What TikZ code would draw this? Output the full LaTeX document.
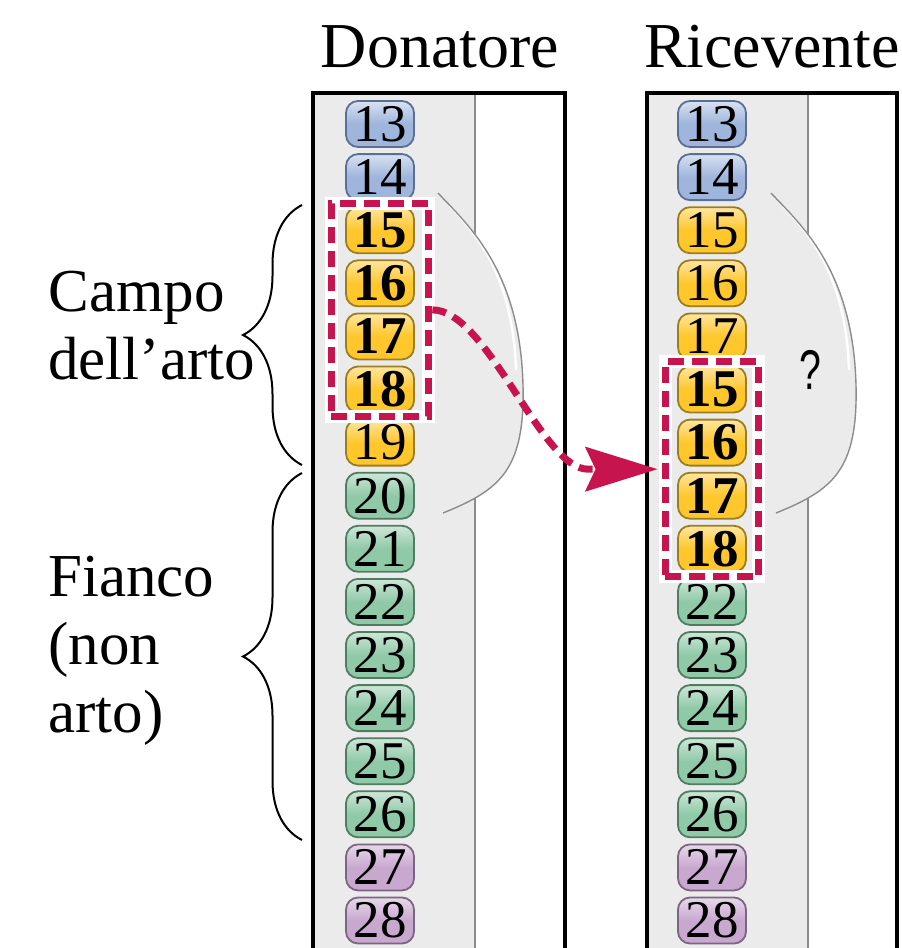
\documentclass[tikz,border=0pt]{standalone}
\usepackage{fontspec}
\usepackage{graphicx}
\setmainfont{Liberation Serif}
\setsansfont{Liberation Sans}
\usetikzlibrary{arrows.meta,decorations.pathreplacing,fit,calc}

% colori dei segmenti
\definecolor{cblu}{HTML}{9FB5DC}
\definecolor{cbluD}{HTML}{5B6F96}
\definecolor{cgia}{HTML}{FFC72C}
\definecolor{cgiaD}{HTML}{9C7E22}
\definecolor{cver}{HTML}{90C9A8}
\definecolor{cverD}{HTML}{4E7D62}
\definecolor{cvio}{HTML}{C9A8D0}
\definecolor{cvioD}{HTML}{7C6483}
\definecolor{cremisi}{HTML}{C8144E}
\definecolor{striscia}{HTML}{EBEBEB}

\tikzset{
	chip/.style={rounded corners=6pt,minimum width=34pt,minimum height=23pt,
		inner sep=0pt,line width=0.9pt,font=\fontsize{26.5}{26}\selectfont},
	blu/.style={chip,draw=cbluD,top color=cblu!40!white,bottom color=cblu,middle color=cblu},
	gia/.style={chip,draw=cgiaD,top color=cgia!45!white,bottom color=cgia,middle color=cgia},
	giab/.style={gia,font=\fontsize{26.5}{26}\selectfont\bfseries},
	ver/.style={chip,draw=cverD,top color=cver!45!white,bottom color=cver,middle color=cver},
	vio/.style={chip,draw=cvioD,top color=cvio!45!white,bottom color=cvio,middle color=cvio},
	selbox/.style={draw=cremisi,line width=3.5pt,dash pattern=on 8pt off 4pt,
		preaction={draw=white,line width=6.5pt,solid},inner xsep=7pt,inner ysep=1.5pt},
	mossa/.style={draw=cremisi,line width=3.5pt,dash pattern=on 7pt off 4pt,
		-{Stealth[length=36pt,width=22pt,inset=5pt]},shorten >=2pt},
	graffa/.style={decorate,decoration={brace,amplitude=29.5pt},line width=1pt},
	etich/.style={font=\fontsize{30.5}{34}\selectfont,align=left,inner sep=0pt},
	cornice/.style={line width=2pt,line join=miter},
	bordo/.style={draw=black!45,line width=0.7pt}
}

\begin{document}
\begin{tikzpicture}[x=0.5pt,y=-0.5pt]
	\useasboundingbox (0,0) rectangle (901,948);
	% strisce grigie con la gobba
	\foreach \e/\l in {475/313,808/647}{
		\fill[striscia] (\l,93) rectangle (\e,948);
		\begin{scope}[shift={(\e,0)}]
			\draw[bordo] (0,93) -- (0,948);
			\fill[striscia] (-37,193) .. controls (-7,225) and (45,270) .. (48,385)
				.. controls (50,470) and (25,490) .. (-32,513) -- cycle;
			\draw[white,line width=1.2pt] (-26,205) .. controls (0,232) and (38,275) .. (41,370);
			\draw[bordo] (-37,193) .. controls (-7,225) and (45,270) .. (48,385)
				.. controls (50,470) and (25,490) .. (-32,513);
		\end{scope}
	}
	\draw[cornice] (313,948) -- (313,93) -- (565,93) -- (565,948);
	\draw[cornice] (647,948) -- (647,93) -- (897,93) -- (897,948);
	% titoli
	\node[etich,font=\fontsize{32}{34}\selectfont,anchor=base] (don) at (440,67) {Donatore};
	\node[etich,font=\fontsize{32}{34}\selectfont,anchor=base] (ric) at (772,67) {Ricevente};
	% segmenti
	\foreach \n/\s [count=\i from 0] in {13/blu,14/blu,15/giab,16/giab,17/giab,18/giab,19/gia,
		20/ver,21/ver,22/ver,23/ver,24/ver,25/ver,26/ver,27/vio,28/vio}
		\node[\s] (d\i) at (380,124+53.1*\i) {\n};
	\foreach \n/\s [count=\i from 0] in {13/blu,14/blu,15/gia,16/gia,17/gia,15/giab,16/giab,17/giab,
		18/giab,22/ver,23/ver,24/ver,25/ver,26/ver,27/vio,28/vio}
		\node[\s] (r\i) at (712,124+53.1*\i) {\n};
	\node[selbox,fit=(d2)(d5)] (selL) {};
	\node[selbox,inner xsep=6pt,inner ysep=2pt,fit=(r5)(r8)] (selR) {};
	\draw[mossa] (selL.east) .. controls +(55,0) and ($(selR.west)+(-120,0)$)
		.. ($(selR.west)+(-74,0)$) -- (selR.west);
	\node[font=\sffamily\fontsize{28}{28}\selectfont] (dubbio) at (810,370) {\scalebox{0.7}[1]{?}};
	% graffe ed etichette
	\draw[graffa] (302,465) -- (302,205);
	\draw[graffa] (302,840) -- (302,473);
	\node[etich,anchor=north west] (campo) at (48,271) {Campo\\dell’arto};
	\node[etich,anchor=north west] (fianco) at (48,556) {Fianco\\(non\\arto)};
\end{tikzpicture}
\end{document}
